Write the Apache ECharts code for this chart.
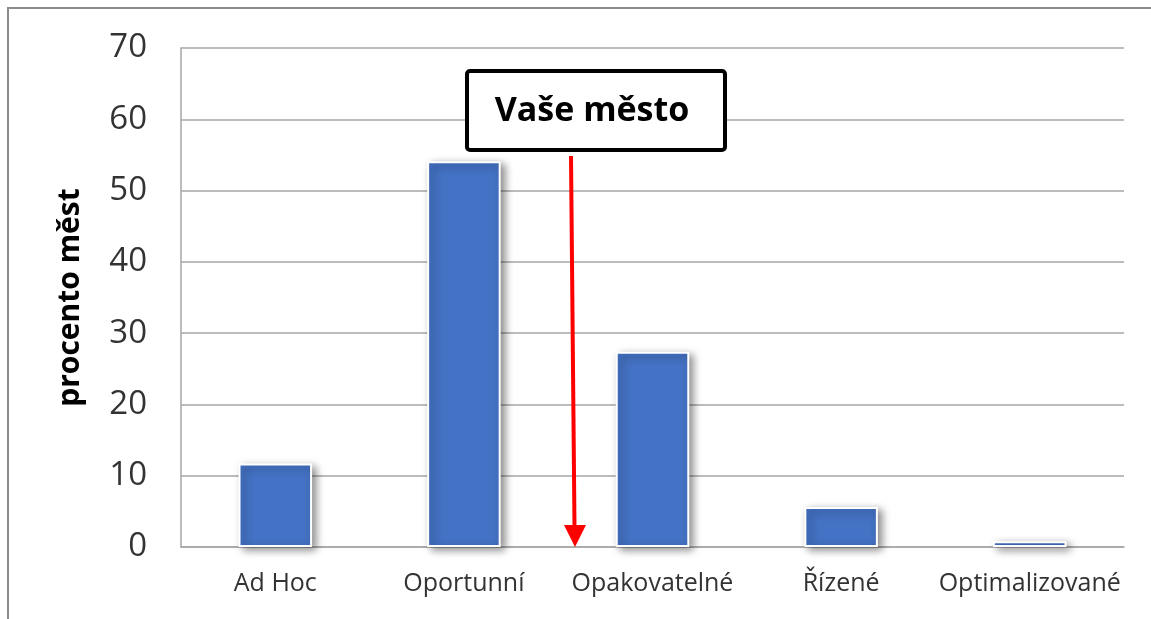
<!DOCTYPE html>
<html>
<head>
<meta charset="utf-8">
<title>procento měst</title>
<script src="https://cdn.jsdelivr.net/npm/echarts@6/dist/echarts.min.js"></script>
<style>
  html, body { margin: 0; padding: 0; background: #fff; }
  #main { width: 1151px; height: 619px; }
</style>
</head>
<body>
<div id="main"></div>
<script>
// data
var categories = ['Ad Hoc', 'Oportunní', 'Opakovatelné', 'Řízené', 'Optimalizované'];
var values = [11.7, 54.1, 27.4, 5.6, 0.8];
var yTicks = { min: 0, max: 70, interval: 10 };

var myChart = echarts.init(document.getElementById('main'));

var font = '"Open Sans", "Noto Sans", sans-serif';

myChart.setOption({
	animation: false,
	textStyle: { fontFamily: font },
	grid: { left: 181, right: 27, top: 48, bottom: 72, containLabel: false },
	xAxis: {
		type: 'category',
		data: categories,
		axisTick: { show: false },
		axisLine: { lineStyle: { color: '#a6a6a6', width: 1.5 } },
		axisLabel: {
			interval: 0, hideOverlap: false,
			fontSize: 25, color: '#333', margin: 24, fontFamily: font
		}
	},
	yAxis: {
		type: 'value',
		min: yTicks.min,
		max: yTicks.max,
		interval: yTicks.interval,
		name: 'procento měst',
		nameLocation: 'middle',
		nameGap: 96,
		nameTextStyle: { fontSize: 30, fontWeight: 'bold', color: '#000', fontFamily: font },
		axisLine: { show: true, lineStyle: { color: '#a6a6a6', width: 1.5 } },
		axisTick: { show: false },
		axisLabel: { fontSize: 33, color: '#333', margin: 34, fontFamily: font },
		splitLine: { lineStyle: { color: '#a6a6a6', width: 1.5 } }
	},
	series: [{
		type: 'bar',
		data: values,
		barWidth: '39%',
		itemStyle: {
			color: '#4472C4',
			borderColor: '#ffffff',
			borderWidth: 2,
			shadowColor: 'rgba(0,0,0,0.45)',
			shadowBlur: 8,
			shadowOffsetX: 4,
			shadowOffsetY: 3
		}
	}],
	graphic: [
		// outer frame
		{
			type: 'rect', z: -1, silent: true,
			shape: { x: 8, y: 8, width: 1200, height: 700 },
			style: { fill: 'none', stroke: '#8c8c8c', lineWidth: 2 }
		},
		// annotation box
		{
			type: 'rect', z: 10,
			shape: { x: 467, y: 71, width: 258, height: 79, r: 3 },
			style: { fill: '#fff', stroke: '#000', lineWidth: 4 }
		},
		{
			type: 'text', z: 11,
			x: 592, y: 111,
			style: {
				text: 'Vaše město', fill: '#000',
				font: 'bold 34px ' + font,
				align: 'center', verticalAlign: 'middle'
			}
		},
		// red arrow
		{
			type: 'line', z: 10,
			shape: { x1: 571, y1: 156, x2: 574.5, y2: 527 },
			style: { stroke: '#ff0000', lineWidth: 4 }
		},
		{
			type: 'polygon', z: 10,
			shape: { points: [[564, 525], [586, 525], [575, 547]] },
			style: { fill: '#ff0000' }
		}
	]
});
</script>
</body>
</html>
